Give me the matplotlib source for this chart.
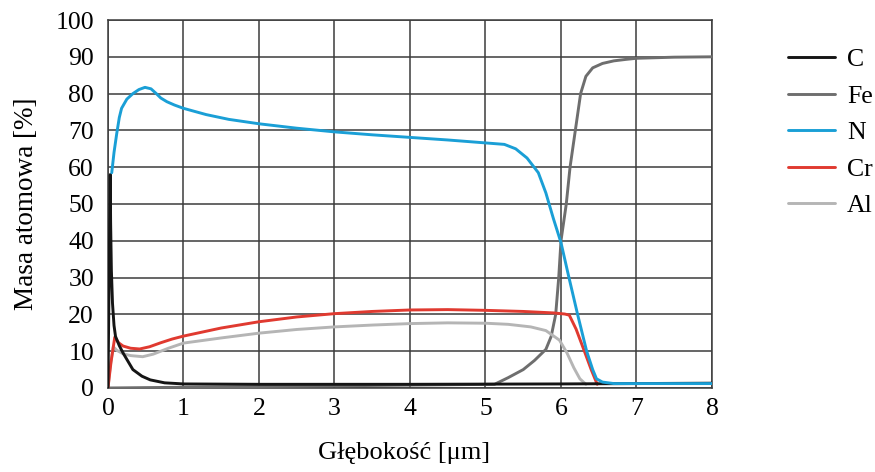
import matplotlib
matplotlib.use("Agg")
import matplotlib.pyplot as plt

# ---- data ----
c_x = [0.0, 0.02, 0.03, 0.035, 0.045, 0.06, 0.08, 0.1, 0.15, 0.2, 0.33, 0.45, 0.56, 0.75, 1.0, 2.0, 4.0, 6.0, 7.0, 8.0]
c_y = [0.0, 40.0, 58.0, 45.0, 32.0, 23.0, 17.0, 14.0, 11.5, 9.5, 5.0, 3.2, 2.2, 1.4, 1.1, 1.0, 1.0, 1.1, 1.2, 1.3]

fe_x = [0.0, 5.12, 5.3, 5.5, 5.65, 5.8, 5.87, 5.93, 5.97, 6.0, 6.07, 6.12, 6.19, 6.26, 6.33, 6.42, 6.55, 6.7, 6.86, 7.0, 7.5, 8.0]
fe_y = [0.0, 1.0, 2.8, 5.0, 7.5, 10.5, 14.0, 20.0, 30.0, 40.0, 50.0, 60.0, 70.0, 80.0, 84.7, 87.0, 88.2, 88.9, 89.3, 89.6, 89.9, 90.0]

n_x = [0.05, 0.08, 0.115, 0.15, 0.18, 0.25, 0.33, 0.41, 0.49, 0.57, 0.64, 0.7, 0.78, 0.88, 1.0, 1.3, 1.6, 2.0, 2.5,
       3.0, 3.5, 4.0, 4.5, 5.0, 5.25, 5.4, 5.55, 5.7, 5.8, 5.9, 6.0, 6.1, 6.22, 6.34, 6.42, 6.47, 6.55, 6.7, 8.0]
n_y = [58.5, 64.0, 69.0, 73.5, 76.0, 78.5, 80.0, 81.1, 81.7, 81.3, 80.0, 78.8, 77.8, 76.9, 76.0, 74.3, 73.0, 71.8, 70.6,
       69.6, 68.8, 68.1, 67.4, 66.6, 66.2, 65.0, 62.5, 58.5, 53.0, 46.0, 39.5, 30.5, 20.0, 10.0, 5.0, 2.5, 1.6, 1.2, 1.2]

cr_x = [0.0, 0.04, 0.09, 0.14, 0.2, 0.3, 0.42, 0.55, 0.7, 0.85, 1.0, 1.5, 2.0, 2.5, 3.0, 3.5, 4.0, 4.5,
        5.0, 5.5, 5.9, 6.05, 6.11, 6.2, 6.31, 6.4, 6.48]
cr_y = [0.0, 7.0, 13.8, 12.3, 11.4, 10.8, 10.6, 11.2, 12.3, 13.3, 14.1, 16.3, 18.0, 19.3, 20.2, 20.8, 21.2, 21.3,
        21.1, 20.8, 20.4, 20.1, 19.8, 16.0, 10.0, 5.0, 1.0]

al_x = [0.0, 0.03, 0.07, 0.12, 0.2, 0.3, 0.46, 0.6, 0.8, 1.0, 1.5, 2.0, 2.5, 3.0, 3.5, 4.0, 4.5,
        5.0, 5.3, 5.6, 5.8, 5.98, 6.08, 6.17, 6.25, 6.33]
al_y = [0.0, 6.0, 11.2, 10.2, 9.3, 8.8, 8.5, 9.2, 10.8, 12.2, 13.6, 14.9, 15.9, 16.6, 17.1, 17.5, 17.7,
        17.6, 17.3, 16.6, 15.6, 13.0, 9.5, 5.5, 2.5, 1.0]

labels = ["C", "Fe", "N", "Cr", "Al"]
colors = ["#151515", "#6e6e6e", "#1a9fd6", "#e03a30", "#b5b5b5"]
x_ticks = [0, 1, 2, 3, 4, 5, 6, 7, 8]
y_ticks = [0, 10, 20, 30, 40, 50, 60, 70, 80, 90, 100]

plt.rcParams['font.family'] = ['Liberation Serif', 'DejaVu Serif']

fig = plt.figure(figsize=(8.75, 4.72), dpi=100)
ax = fig.add_axes([0.1234, 0.178, 0.6903, 0.7796])

series = [(c_x, c_y), (fe_x, fe_y), (n_x, n_y), (cr_x, cr_y), (al_x, al_y)]
order = [1, 4, 3, 2, 0]
handles = {}
for i in order:
    xs, ys = series[i]
    h, = ax.plot(xs, ys, color=colors[i], lw=2.1, label=labels[i], solid_joinstyle='round',
                 solid_capstyle='round', zorder=3 + (i == 2))
    handles[i] = h

ax.set_xlim(0, 8)
ax.set_ylim(0, 100)
ax.set_xticks(x_ticks)
ax.set_yticks(y_ticks)
ax.tick_params(length=0, labelsize=18.5)
ax.tick_params(axis='x', pad=7)
ax.tick_params(axis='y', pad=10)
ax.grid(True, color="#3c3c3c", lw=1.1)
ax.set_axisbelow(True)
for s in ax.spines.values():
    s.set_color("#3c3c3c")
    s.set_linewidth(1.1)

ax.set_xlabel("Głębokość [μm]", fontsize=19)
ax.xaxis.set_label_coords(0.49, -0.147)
ax.set_ylabel("Masa atomowa [%]", fontsize=19.5, labelpad=12)

leg = fig.legend([handles[i] for i in range(5)], labels, loc="upper left",
                 bbox_to_anchor=(788 / 875, 1 - 48 / 472), frameon=False, fontsize=18.5,
                 borderpad=0, borderaxespad=0,
                 handlelength=1.83, handletextpad=0.47, labelspacing=0.53)

fig.savefig("out.png", dpi=100)
